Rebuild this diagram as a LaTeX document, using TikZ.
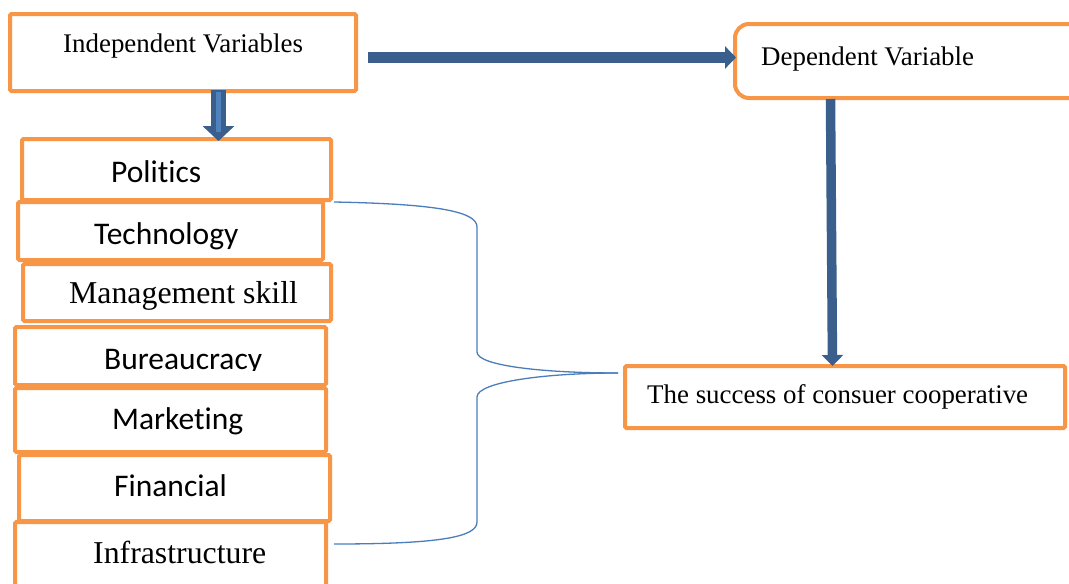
\documentclass[tikz,border=0pt]{standalone}
\usepackage{fontspec}
\setmainfont{Liberation Serif}
\newfontfamily\calib[Ligatures=NoCommon,RawFeature={-liga;-clig;-dlig}]{Carlito}
\usetikzlibrary{arrows.meta,calc}
\definecolor{orng}{HTML}{F79646}
\definecolor{dblue}{HTML}{3A5F8C}
\definecolor{lblue}{HTML}{4F81BD}
\definecolor{bracec}{HTML}{4A7EBB}
\tikzset{
  obox/.style={draw=orng, line width=4pt, rectangle, rounded corners=1.5pt, fill=white, inner sep=0pt},
  lbl/.style={inner sep=0pt, anchor=base west, font=\fontsize{26.9}{30}\selectfont},
  lblbig/.style={inner sep=0pt, anchor=base west, font=\fontsize{31.8}{36}\selectfont},
  lblsans/.style={inner sep=0pt, anchor=base west, font=\calib\fontsize{31.5}{36}\selectfont},
  bigarrow/.style={draw=dblue, line width=11pt, -{Triangle[length=11pt,width=22pt]}},
  vertarrow/.style={draw=dblue, line width=9.5pt, -{Triangle[length=11pt,width=21pt]}},
  downarrow/.style={draw=dblue, line width=15pt, -{Triangle[length=15pt,width=31pt]}},
  bracel/.style={draw=bracec, line width=1.3pt}
}
\begin{document}
\begin{tikzpicture}[x=1pt,y=-1pt]
\clip (0,0) rectangle (1069,584);
\fill[white] (0,0) rectangle (1069,584);

% boxes
\node[obox, minimum width=346pt, minimum height=77pt] (indep) at (183,52.5) {};
\node[obox, rounded corners=14pt, minimum width=360pt, minimum height=74pt] (dep) at (915,61) {};
\node[obox, minimum width=440pt, minimum height=62pt] (succ) at (845,397) {};

\node[obox, minimum width=309pt, minimum height=61pt] (politics) at (176.5,169.5) {};
\node[obox, minimum width=305pt, minimum height=58pt] (tech) at (170.5,231) {};
\node[obox, minimum width=308pt, minimum height=57pt] (mgmt) at (177,292.5) {};
\node[obox, minimum width=311pt, minimum height=58pt] (bureau) at (170.5,356) {};
\node[obox, minimum width=311pt, minimum height=64pt] (market) at (170.5,420) {};
\node[obox, minimum width=311pt, minimum height=66pt] (financ) at (174.5,488) {};
\node[obox, minimum width=311pt, minimum height=80pt] (infra) at (170.5,562) {};

% labels
\node[lbl] (tindep) at (63,52) {Independent Variables};
\node[lbl] (tdep) at (761,65) {Dependent Variable};
\node[lbl] (tsucc) at (647,403) {The success of consuer cooperative};
\node[lblsans] (tpol) at (111,182) {Politics};
\node[lblsans] (ttech) at (94,244) {Technology};
\node[lblbig] (tmgmt) at (69,303) {Management skill};
\begin{scope}
\clip (0,330) rectangle (340,370);
\node[lblsans] (tbur) at (104,369) {Bureaucracy};
\end{scope}
\node[lblsans] (tmark) at (112,429) {Marketing};
\node[lblsans] (tfin) at (114,496) {Financial};
\node[lblbig] (tinf) at (93,563) {Infrastructure};

% arrows
\draw[bigarrow] ($(indep.east)+(10,5)$) -- ($(dep.west)+(3,-3.5)$);
\coordinate (da1) at ($(indep.south)+(35.5,-3)$);
\coordinate (da2) at ($(politics.north)+(42,4)$);
\draw[downarrow] (da1) -- (da2);
\draw[lblue, line width=4.5pt] ($(da1)+(0,2)$) -- ($(da2)+(0,-9)$);
\draw[vertarrow] ($(dep.south west)+(97.5,-1)$) -- ($(succ.north)+(-12.5,2)$);

% brace connectors
\coordinate (bmid) at ($(succ.west)+(-5,-24)$);
\draw[bracel] ($(tech.north east)+(9,2)$) .. controls (440,204) and (477,212) .. (477,227)
  -- (477,352) .. controls (477,366) and (545,373) .. (bmid);
\draw[bracel] (bmid) .. controls (545,373) and (477,382) .. (477,397)
  -- (477,522) .. controls (477,537) and (440,544) .. ($(infra.east)+(6,-18)$);
\end{tikzpicture}
\end{document}
